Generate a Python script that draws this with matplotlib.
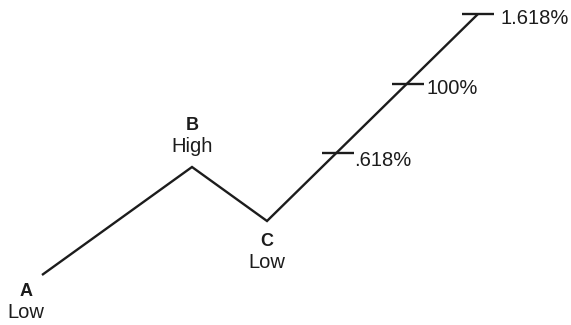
import matplotlib
matplotlib.use("Agg")
import matplotlib.pyplot as plt

plt.rcParams['font.family'] = ['Liberation Sans', 'DejaVu Sans']

# Wave points (x position, price level in chart units; higher = up)
wave_x = [42, 192, 267, 478]
wave_y = [50, 158, 104, 311]
point_names = ["A", "B", "C"]
point_kinds = ["Low", "High", "Low"]

# Fibonacci extension ticks on the final leg
fib_labels = [".618%", "100%", "1.618%"]
fib_x = [338, 408, 478]
fib_y = [172, 241, 311]

INK = '#1c1c1c'

fig = plt.figure(figsize=(5.71, 3.25), dpi=100)
ax = fig.add_axes([0, 0, 1, 1])
ax.set_xlim(0, 571)
ax.set_ylim(0, 325)
ax.axis('off')

ax.plot(wave_x, wave_y, color=INK, lw=1.7, solid_capstyle='butt', solid_joinstyle='miter')

tick_half = 16
label_gap = [0, 2, 7]
label_dy = [-7, -5, -4]
for lbl, x, y, g, dy in zip(fib_labels, fib_x, fib_y, label_gap, label_dy):
    ax.plot([x - tick_half, x + tick_half], [y, y], color=INK, lw=1.7, solid_capstyle='butt')
    ax.text(x + tick_half + g, y + dy, lbl, fontsize=14.5, color=INK, ha='left', va='center')

# Point labels
label_offsets = [(-16, -16), (0, 42), (0, -20)]
for name, kind, x, y, (dx, dy) in zip(point_names, point_kinds, wave_x, wave_y, label_offsets):
    ax.text(x + dx, y + dy, name, fontsize=13, fontweight='bold', ha='center', va='center', color=INK)
    ax.text(x + dx, y + dy - 22, kind, fontsize=14.5, ha='center', va='center', color=INK)

fig.savefig('out.png', dpi=100, facecolor='white')
